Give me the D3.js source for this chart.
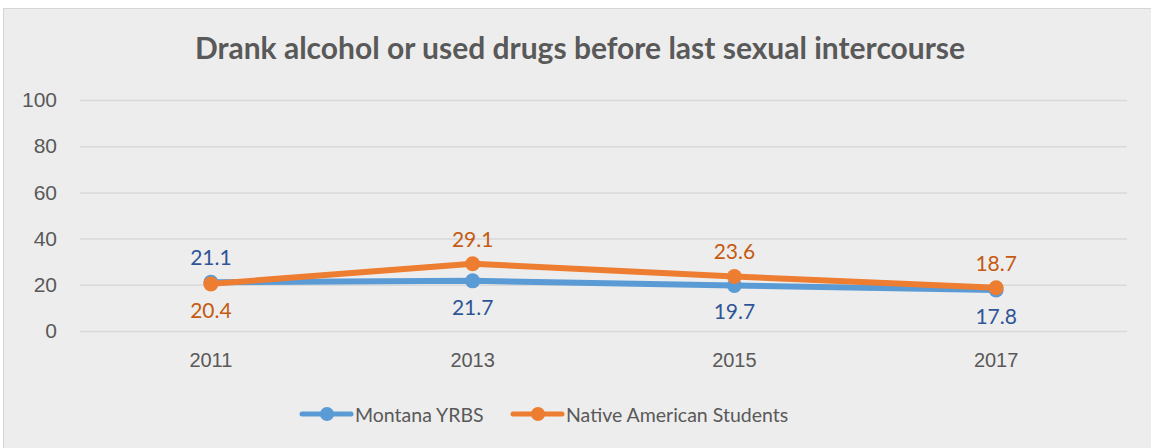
<!DOCTYPE html>
<html><head><meta charset="utf-8">
<script src="https://cdn.jsdelivr.net/npm/d3@7"></script>
<style>body{margin:0;background:#fff;}svg{display:block;font-family:Lato,"Open Sans",sans-serif;}</style>
</head><body><svg id="c" width="1151" height="448"></svg>
<script>
const categories = ["2011","2013","2015","2017"];
const montana = [21.1, 21.7, 19.7, 17.8];
const native = [20.4, 29.1, 23.6, 18.7];
const yTicks = [0,20,40,60,80,100];
const title = "Drank alcohol or used drugs before last sexual intercourse";
const seriesNames = ["Montana YRBS","Native American Students"];

const svg = d3.select("#c");
svg.append("rect").attr("x",3.5).attr("y",8.5).attr("width",1160).attr("height",460)
  .attr("fill","#ededed").attr("stroke","#d6d6d6");

const x = d3.scaleBand().domain(categories).range([80,1127]);
const y = d3.scaleLinear().domain([0,100]).range([331,100]);

svg.append("text").attr("x",580).attr("y",59).attr("text-anchor","middle")
  .attr("font-size",30).attr("font-weight","bold").attr("fill","#595959").text(title);

const yAxis = d3.axisLeft(y).tickValues(yTicks).tickSize(-(1127-80)).tickPadding(14);
const gy = svg.append("g").attr("transform","translate(80,0)").call(yAxis);
gy.select(".domain").remove();
gy.selectAll(".tick line").attr("stroke","#d9d9d9").attr("stroke-width",1.5);
gy.selectAll(".tick text").attr("font-size",21).attr("fill","#595959").attr("x",-23);

const xAxis = d3.axisBottom(x).tickSize(0).tickPadding(22);
const gx = svg.append("g").attr("transform","translate(0,331)").call(xAxis);
gx.select(".domain").remove();
gx.selectAll(".tick text").attr("font-size",20).attr("fill","#595959");

const cx = d => x(d) + x.bandwidth()/2;
const series = [
  {name: seriesNames[0], vals: montana, color:"#5b9bd5", label:"#2f5597", above:[true,false,false,false]},
  {name: seriesNames[1], vals: native, color:"#ed7d31", label:"#c55a11", above:[false,true,true,true]}
];
series.forEach(s => {
  const line = d3.line().x((d,i)=>cx(categories[i])).y(d=>y(d));
  svg.append("path").datum(s.vals).attr("d",line).attr("fill","none")
    .attr("stroke",s.color).attr("stroke-width",6).attr("stroke-linejoin","round").attr("stroke-linecap","round");
  svg.selectAll(null).data(s.vals).enter().append("circle")
    .attr("cx",(d,i)=>cx(categories[i])).attr("cy",d=>y(d)).attr("r",7.5).attr("fill",s.color);
});
series.forEach(s => {
  svg.selectAll(null).data(s.vals).enter().append("text")
    .attr("x",(d,i)=>cx(categories[i]))
    .attr("y",(d,i)=> s.above[i] ? y(d)-17 : y(d)+34)
    .attr("text-anchor","middle").attr("font-size",21).attr("fill",s.label)
    .text(d=>d.toFixed(1));
});

// legend
const legendX = [302, 513];
series.forEach((s,i) => {
  const g = svg.append("g").attr("transform",`translate(${legendX[i]},414)`);
  g.append("line").attr("x1",0).attr("x2",49).attr("stroke",s.color).attr("stroke-width",5).attr("stroke-linecap","round");
  g.append("circle").attr("cx",25).attr("r",7).attr("fill",s.color);
  g.append("text").attr("x",53).attr("y",7.5).attr("font-size",19.5).attr("fill","#595959").text(s.name);
});
</script></body></html>
